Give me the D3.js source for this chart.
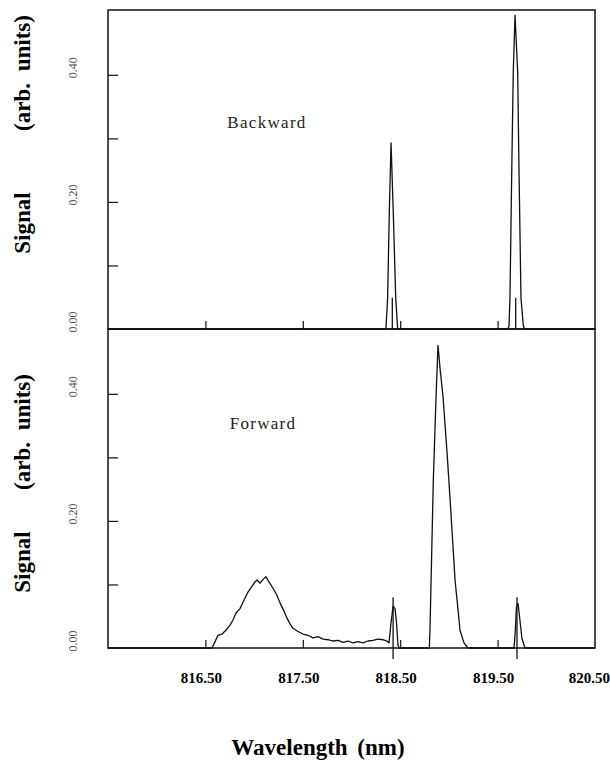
<!DOCTYPE html>
<html>
<head>
<meta charset="utf-8">
<script src="https://cdn.jsdelivr.net/npm/d3@7"></script>
<style>
  body { margin: 0; background: #fff; }
  svg { display: block; font-family: "Liberation Serif", "DejaVu Serif", serif; }
</style>
</head>
<body>
<svg id="chart" width="610" height="783"></svg>
<script>
// Backward spectrum (two narrow lines)
const backwardWavelength = [815.5, 818.344, 818.354, 818.371, 818.388, 818.406, 818.429, 818.454, 818.474,
  819.607, 819.617, 819.627, 819.645, 819.661, 819.679, 819.706, 819.720, 819.740, 819.764, 819.776, 820.5];
const backwardSignal = [0, 0, 0.002, 0.049, 0.183, 0.293, 0.183, 0.049, 0,
  0, 0.005, 0.049, 0.247, 0.405, 0.494, 0.405, 0.247, 0.049, 0.005, 0, 0];

// Forward spectrum (broad band + central peak + two lines)
const forwardWavelength = [815.5, 816.568, 816.599, 816.629, 816.670, 816.711, 816.753, 816.783, 816.814,
  816.855, 816.896, 816.937, 816.978, 817.009, 817.030, 817.061, 817.092, 817.122, 817.153, 817.194,
  817.235, 817.266, 817.307, 817.338, 817.369, 817.399, 817.451, 817.501, 817.553, 817.605, 817.656,
  817.707, 817.759, 817.810, 817.861, 817.913, 817.964, 818.015, 818.067, 818.118, 818.169, 818.221,
  818.272, 818.323, 818.364, 818.385, 818.406, 818.427, 818.447, 818.462, 818.477, 818.488,
  818.799, 818.806, 818.840, 818.868, 818.888, 818.909, 818.940, 818.981, 819.011, 819.042, 819.063,
  819.094, 819.114, 819.155, 819.196,
  819.668, 819.679, 819.694, 819.710, 819.725, 819.750, 819.781, 820.5];
const forwardSignal = [0, 0, 0.010, 0.020, 0.022, 0.028, 0.036, 0.044, 0.055,
  0.062, 0.075, 0.088, 0.097, 0.104, 0.107, 0.102, 0.108, 0.112, 0.104, 0.094,
  0.083, 0.071, 0.058, 0.047, 0.038, 0.031, 0.026, 0.022, 0.020, 0.016, 0.018,
  0.014, 0.013, 0.011, 0.012, 0.009, 0.011, 0.008, 0.010, 0.008, 0.011, 0.012,
  0.014, 0.013, 0.011, 0.008, 0.040, 0.066, 0.062, 0.040, 0.005, 0,
  0, 0.030, 0.264, 0.395, 0.476, 0.440, 0.395, 0.307, 0.237, 0.160, 0.107,
  0.060, 0.028, 0.008, 0,
  0, 0.020, 0.065, 0.070, 0.050, 0.015, 0, 0];

// reference line markers
const backwardMarkers = [818.419, 819.686];
const backwardMarkerHeight = [0.049, 0.049];
const forwardMarkers = [818.427, 819.699];
const forwardMarkerHeight = [0.080, 0.080];

const xTicks = [816.5, 817.5, 818.5, 819.5];
const xTickLabels = [816.5, 817.5, 818.5, 819.5, 820.5];
const yTicks = [0.1, 0.2, 0.3, 0.4];
const yTickLabels = [0, 0.2, 0.4];

const svg = d3.select("#chart");
const left = 108, right = 595;

const x = d3.scaleLinear().domain([815.5, 820.5]).range([left, right]);

const panels = [
  { top: 10, bottom: 329, wl: backwardWavelength, sig: backwardSignal, label: "Backward",
    lx: 267, ly: 128, markers: backwardMarkers, mh: backwardMarkerHeight, down: false,
    signalY: 223, unitsY: 73 },
  { top: 329, bottom: 648, wl: forwardWavelength, sig: forwardSignal, label: "Forward",
    lx: 263, ly: 429, markers: forwardMarkers, mh: forwardMarkerHeight, down: true,
    signalY: 562, unitsY: 432 }
];

panels.forEach(p => {
  const y = d3.scaleLinear().domain([0, 0.502]).range([p.bottom, p.top]);
  const g = svg.append("g");

  // frame
  g.append("rect")
    .attr("x", left).attr("y", p.top)
    .attr("width", right - left).attr("height", p.bottom - p.top)
    .attr("fill", "none").attr("stroke", "#111").attr("stroke-width", 1.5);

  // y ticks (inward)
  const yAxis = d3.axisRight(y).tickValues(yTicks).tickSize(10).tickFormat("");
  g.append("g").attr("transform", `translate(${left},0)`).call(yAxis)
    .call(a => a.select(".domain").remove())
    .selectAll("line").attr("stroke", "#111").attr("stroke-width", 1.2);

  // y tick labels (rotated)
  g.selectAll(".ylab").data(yTickLabels).enter().append("text")
    .attr("transform", d => `translate(77,${y(d) - 7}) rotate(-90)`)
    .attr("text-anchor", "middle")
    .style("font-size", "12px")
    .style("fill", "#555")
    .text(d => d3.format(".2f")(d));

  // x ticks (inward, from baseline)
  const xAxis = d3.axisTop(x).tickValues(xTicks).tickSize(8).tickFormat("");
  g.append("g").attr("transform", `translate(0,${p.bottom})`).call(xAxis)
    .call(a => a.select(".domain").remove())
    .selectAll("line").attr("stroke", "#111").attr("stroke-width", 1.2);

  // spectrum
  const pts = p.wl.map((w, i) => [w, p.sig[i]]);
  g.append("path")
    .datum(pts)
    .attr("d", d3.line().x(d => x(d[0])).y(d => y(d[1])))
    .attr("fill", "none")
    .attr("stroke", "#111")
    .attr("stroke-width", 1.3)
    .attr("stroke-linejoin", "round");

  // marker lines
  g.selectAll(".marker").data(p.markers).enter().append("line")
    .attr("x1", d => x(d)).attr("x2", d => x(d))
    .attr("y1", (d, i) => y(p.mh[i]))
    .attr("y2", p.down ? p.bottom + 11 : p.bottom)
    .attr("stroke", "#111").attr("stroke-width", 1.3);

  // panel label
  g.append("text")
    .attr("x", p.lx).attr("y", p.ly)
    .attr("text-anchor", "middle")
    .style("font-size", "17px")
    .style("letter-spacing", "1.3px")
    .style("fill", "#222")
    .text(p.label);

  // y title
  g.append("text")
    .attr("transform", `translate(30,${p.signalY}) rotate(-90)`)
    .attr("text-anchor", "middle")
    .style("font-size", "23px")
    .style("font-weight", "bold")
    .text("Signal");
  g.append("text")
    .attr("transform", `translate(30,${p.unitsY}) rotate(-90)`)
    .attr("text-anchor", "middle")
    .style("font-size", "23px")
    .style("font-weight", "bold")
    .style("word-spacing", "6px")
    .text("(arb. units)");
});

// x tick labels
svg.selectAll(".xlab").data(xTickLabels).enter().append("text")
  .attr("x", (d, i) => i === xTickLabels.length - 1 ? 610 : x(d) - 4)
  .attr("y", 683)
  .attr("text-anchor", (d, i) => i === xTickLabels.length - 1 ? "end" : "middle")
  .style("font-size", "15px")
  .style("font-weight", "bold")
  .text(d => d3.format(".2f")(d));

// x title
svg.append("text")
  .attr("x", 318).attr("y", 755)
  .attr("text-anchor", "middle")
  .style("font-size", "23px")
  .style("font-weight", "bold")
  .style("word-spacing", "4px")
  .text("Wavelength (nm)");
</script>
</body>
</html>
